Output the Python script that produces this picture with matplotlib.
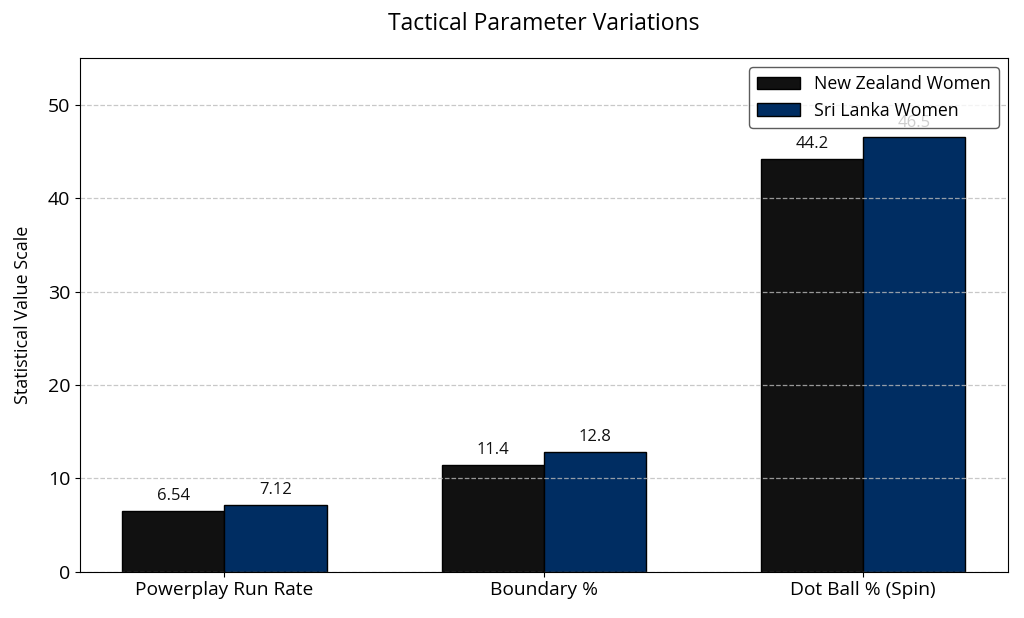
import matplotlib.pyplot as plt
import numpy as np

plt.rcParams['font.family'] = ['Open Sans', 'DejaVu Sans']

categories = ['Powerplay Run Rate', 'Boundary %', 'Dot Ball % (Spin)']
teams = ['New Zealand Women', 'Sri Lanka Women']
nz_values = [6.54, 11.4, 44.2]
sl_values = [7.12, 12.8, 46.5]
nz_labels = ['6.54', '11.4', '44.2']
sl_labels = ['7.12', '12.8', '46.5']

x = np.arange(len(categories))
w = 0.32

fig, ax = plt.subplots(figsize=(10.24, 6.18), dpi=100)
# grid sits on top of the bars in the original
ax.yaxis.grid(True, linestyle='--', color='#bbbbbb', linewidth=0.9, alpha=0.8)
b1 = ax.bar(x - w / 2, nz_values, w, color='#111111', edgecolor='black', linewidth=1, label=teams[0], zorder=1)
b2 = ax.bar(x + w / 2, sl_values, w, color='#002D62', edgecolor='black', linewidth=1, label=teams[1], zorder=1)

for bars, labs in ((b1, nz_labels), (b2, sl_labels)):
    for bar, lab in zip(bars, labs):
        ax.annotate(lab, (bar.get_x() + bar.get_width() / 2, bar.get_height()),
                    xytext=(0, 5), textcoords='offset points', ha='center', va='bottom',
                    fontsize=12, color='#111111', zorder=3)

ax.set_ylim(0, 55)
ax.set_xticks(x)
ax.set_xticklabels(categories, fontsize=13.8)
ax.tick_params(axis='y', labelsize=14)
ax.set_ylabel('Statistical Value Scale', fontsize=13, labelpad=11)
ax.set_title('Tactical Parameter Variations', fontsize=16.5, pad=20)
leg = ax.legend(loc='upper right', fontsize=12.8, framealpha=0.8, edgecolor='#333333', fancybox=True,
                labelspacing=0.5, handlelength=2.4, borderpad=0.45)
leg.set_zorder(5)

fig.subplots_adjust(left=0.078, right=0.984, top=0.906, bottom=0.075)
fig.savefig('out.png')
